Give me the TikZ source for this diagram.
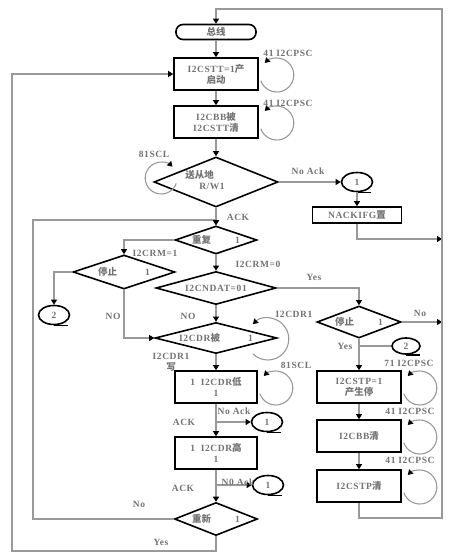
\documentclass[tikz,border=0pt]{standalone}
\usepackage{fontspec}
\setmainfont{Liberation Serif}[LetterSpace=6]
\newfontfamily\cjk{Noto Sans CJK SC}
\usetikzlibrary{shapes.geometric,arrows.meta}
\newcommand{\zh}[1]{{\cjk #1}}
\newcommand{\nowide}[1]{\makebox[0pt]{#1}}

\begin{document}
\begin{tikzpicture}[x=1pt, y=-1pt,
      every node/.style = {font=\bfseries\fontsize{9.5}{11}\selectfont, text=black!55, inner sep=1pt},
      term/.style = {draw=black, line width=1.6pt, rounded corners=7pt,
        minimum width=80, minimum height=15},
      proc/.style = {draw=black, line width=1.6pt, align=center,
        minimum width=84, minimum height=32},
      dec/.style = {draw=black, line width=1.6pt, diamond, inner sep=0pt},
      conn/.style = {draw=black, line width=1.6pt, ellipse, inner sep=0pt,
        minimum width=31, minimum height=19},
      ln/.style = {draw=black!40, line width=1.1pt},
      arr/.style = {ln, -{Triangle[length=5pt, width=6pt, color=black]}}]
  \useasboundingbox (0,0) rectangle (450,554);

  % main column
  \node[term] (bus) at (216,32) {\zh{总线}};
  \node[proc] (start) at (216,74) {I2CSTT=1\zh{产}\\\zh{启动}};
  \node[proc] (bb) at (216,122) {I2CBB\zh{被}\\I2CSTT\zh{清}};
  \node[dec, minimum width=124, minimum height=50] (addr) at (216,182)
    {\nowide{\hspace{-22pt}\begin{tabular}{@{}l@{}}\zh{送从地}\\\hspace{14pt}R/W1\end{tabular}}};
  \node[dec, minimum width=82, minimum height=28] (rep) at (216,240) {\nowide{\zh{重复}\hspace{24pt}1}};
  \node[dec, minimum width=120, minimum height=33] (ndat) at (216,288) {\nowide{I2CNDAT=01}};
  \node[dec, minimum width=122, minimum height=31] (drb) at (216,338) {\nowide{I2CDR\zh{被}\hspace{28pt}1}};
  \node[proc, minimum width=82] (low) at (216,387) {1\ \ I2CDR\zh{低}\\1};
  \node[proc, minimum width=82] (high) at (216,453) {1\ \ I2CDR\zh{高}\\1};
  \node[dec, minimum width=83, minimum height=33] (again) at (216,519) {\nowide{\zh{重新}\hspace{24pt}1}};

  % left branch
  \node[dec, minimum width=102, minimum height=34] (stopL) at (124,272) {\nowide{\zh{停止}\hspace{28pt}1}};
  \node[conn] (c2a) at (54,315) {2};

  % right column
  \node[conn] (c1) at (357,182) {1};
  \node[proc, minimum width=89, minimum height=16] (nack) at (357,215) {NACKIFG\zh{置}};
  \node[dec, minimum width=84, minimum height=32] (stopR) at (359,322) {\nowide{\zh{停止}\hspace{24pt}1}};
  \node[conn, minimum width=28, minimum height=16] (c2b) at (406,346) {2};
  \node[proc] (stp) at (359,387) {I2CSTP=1\\\zh{产生停}};
  \node[proc] (bbc) at (359,436) {I2CBB\zh{清}};
  \node[proc] (stpc) at (359,486) {I2CSTP\zh{清}};
  \node[conn] (c1b) at (267,422) {1};
  \node[conn] (c1c) at (268,485) {1};

  \foreach \c in {c1,c2a,c1b,c1c,c2b}
    \draw[line width=1.6pt] (\c.south) -- ++(14,0);

  \coordinate (rtop) at (442,9);
  \coordinate (rbot) at (442,518);
  \coordinate (rj) at (442,239);
  \coordinate (li) at (33,220);
  \coordinate (lo) at (12,551);

  % connectors
  \draw[arr] (bus) -- (start);
  \draw[arr] (start) -- (bb);
  \draw[arr] (bb) -- (addr);
  \draw[arr] (addr.east) -- (c1.west);
  \draw[arr] (c1) -- (nack);
  \draw[arr] (nack.south) |- (rj);
  \draw[arr] (addr.south) -- (rep.north);
  \draw[arr] (again.west) -| (li) -| (rep.north);
  \draw[arr] (rep.west) -| (stopL.north);
  \draw[arr] (rep) -- (ndat);
  \draw[arr] (stopL.west) -| (c2a.north);
  \draw[arr] (stopL.south) |- (drb.west);
  \draw[arr] (ndat.east) -| (stopR.north);
  \draw[arr] (ndat) -- (drb);
  \draw[arr] (drb) -- (low);
  \draw[arr] (low) -- (high);
  \draw[arr] (c1b.west -| low.south) -- (c1b.west);
  \draw[arr] (high) -- (again);
  \draw[arr] (c1c.west -| high.south) -- (c1c.west);
  \draw[arr] (again.south) |- (lo) |- (start.west);
  \draw[arr] (stopR.east) -- (stopR.east -| rj);
  \draw[ln] (c2b.west -| stopR.south) -- (c2b.west);
  \draw[arr] (stopR) -- (stp);
  \draw[arr] (stp) -- (bbc);
  \draw[arr] (bbc) -- (stpc);
  \draw[arr] (stpc.south) |- (rbot) -- (rtop) -| (bus.north);

  % wait loops
  \foreach \b in {start,bb,low,stp,bbc,stpc}
    \draw[arr] (\b.east) ++(18,1) ++(-200:17) arc[start angle=-200, end angle=-495, radius=17];
  \draw[arr] (addr.west) ++(8,-4) ++(-340:16) arc[start angle=-340, end angle=-45, radius=16];
  \draw[arr] (drb.east) ++(-10,1) ++(-225:21) arc[start angle=-225, end angle=-495, radius=21];

  % labels
  \node (t1) at (288,53) {41 I2CPSC};
  \node (t2) at (288,103) {41 I2CPSC};
  \node (t3) at (154,154) {81SCL};
  \node (t4) at (308,171) {No Ack};
  \node (t5) at (238,217) {ACK};
  \node (t6) at (155,253) {I2CRM=1};
  \node (t7) at (258,264) {I2CRM=0};
  \node (t8) at (314,277) {Yes};
  \node (t9) at (113,316) {NO};
  \node (t10) at (188,316) {NO};
  \node (t11) at (294,314) {I2CDR1};
  \node (t12) at (420,313) {No};
  \node (t13) at (345,346) {Yes};
  \node[align=center] (t14) at (171,362) {I2CDR1\\\zh{写}};
  \node (t15) at (296,365) {81SCL};
  \node (t16) at (409,363) {71 I2CPSC};
  \node (t17) at (234,411) {No Ack};
  \node (t18) at (410,411) {41 I2CPSC};
  \node (t19) at (184,422) {ACK};
  \node (t20) at (410,460) {41 I2CPSC};
  \node (t21) at (238,482) {N0 Ack};
  \node (t22) at (183,488) {ACK};
  \node (t23) at (139,504) {No};
  \node (t24) at (161,542) {Yes};
\end{tikzpicture}
\end{document}
